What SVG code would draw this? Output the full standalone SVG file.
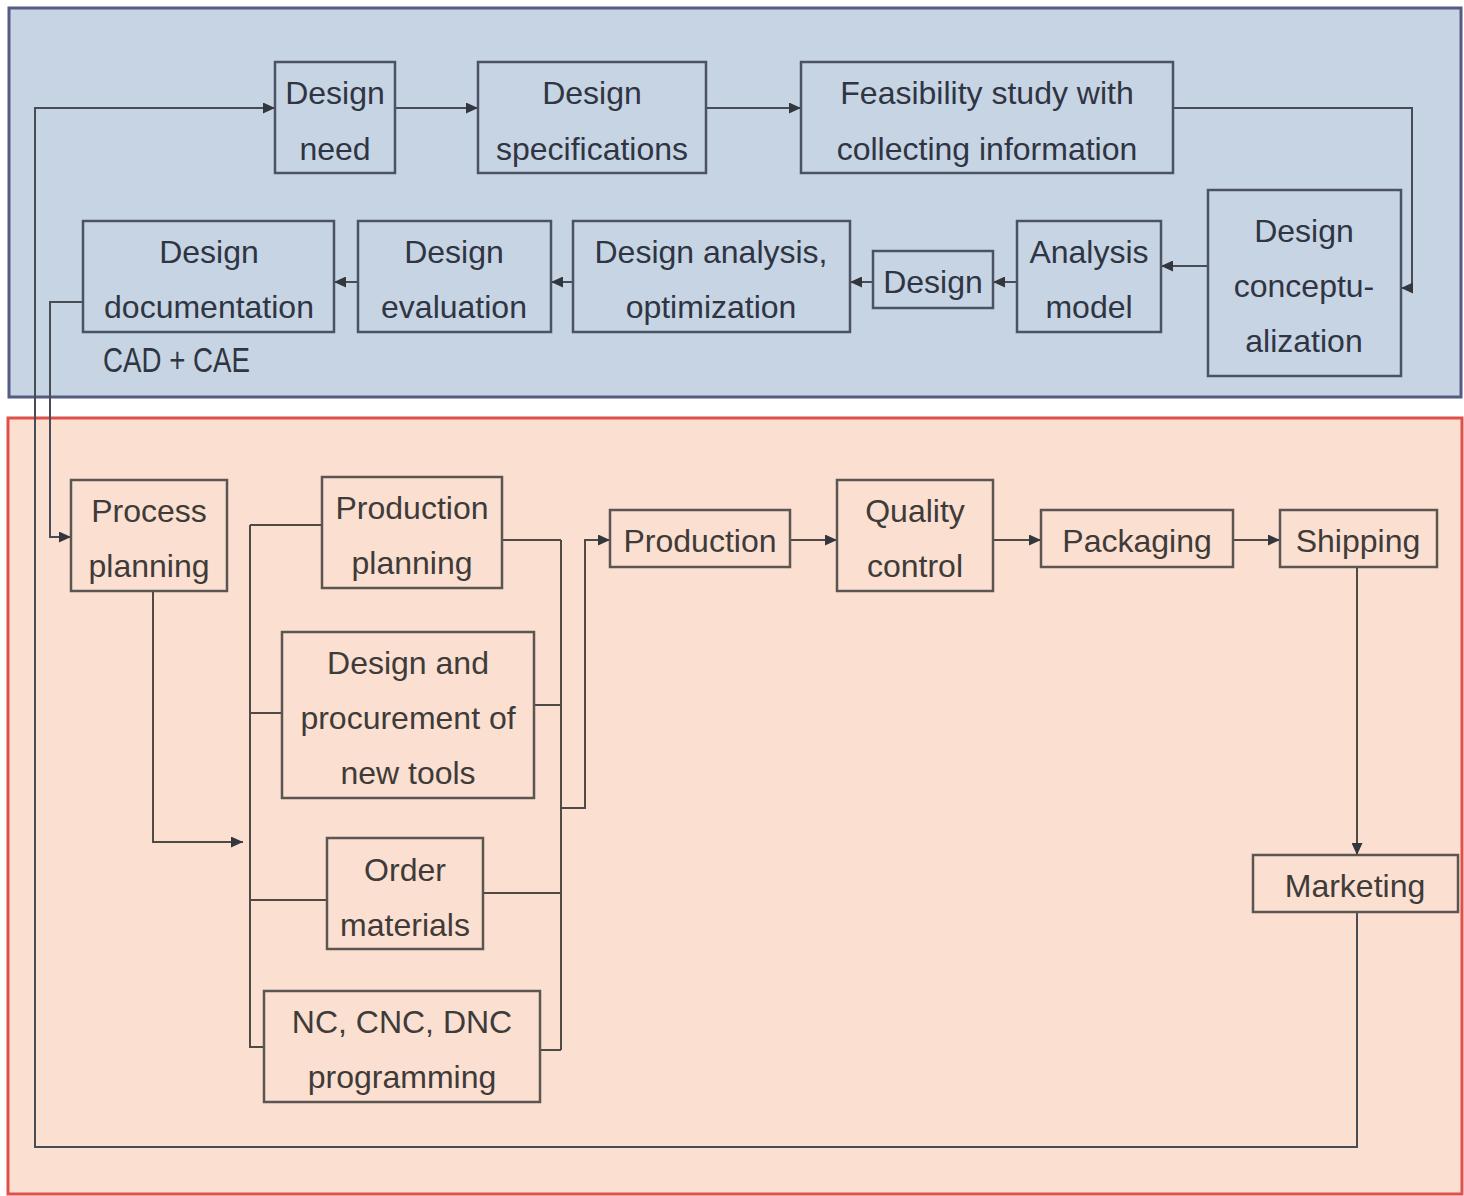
<svg xmlns="http://www.w3.org/2000/svg" width="1464" height="1196" viewBox="0 0 1464 1196">
<style>
text{font-family:"Liberation Sans",Arial,sans-serif;font-size:32px;text-anchor:middle}
.tn rect{fill:none;stroke:#4b5263;stroke-width:2.5}
.tn text{fill:#2f3542}
.bn rect{fill:none;stroke:#5c5652;stroke-width:2.5}
.bn text{fill:#3e3b39}
.ct{fill:none;stroke:#474c57;stroke-width:2}
.cb{fill:none;stroke:#4f4a46;stroke-width:2}
</style>
<defs>
<marker id="ah" markerUnits="userSpaceOnUse" markerWidth="12" markerHeight="11" refX="12" refY="5.5" orient="auto">
<path d="M0,0 L12,5.5 L0,11 z" fill="#33363c"/>
</marker>
</defs>
<rect width="1464" height="1196" fill="#ffffff"/>
<rect id="panel-design" x="9" y="8" width="1452" height="389" fill="#c7d4e4" stroke="#555b82" stroke-width="3"/>
<rect id="panel-manufacturing" x="8" y="418" width="1454" height="776" fill="#fbdfd1" stroke="#e0504a" stroke-width="3"/>

<g id="connectors">
<path class="ct" d="M1357,912 V1147 H35 V108 H275" marker-end="url(#ah)"/>
<path class="ct" d="M395,108 H478" marker-end="url(#ah)"/>
<path class="ct" d="M706,108 H801" marker-end="url(#ah)"/>
<path class="ct" d="M1173,108 H1412 V288 H1401" marker-end="url(#ah)"/>
<path class="ct" d="M1208,266 H1161" marker-end="url(#ah)"/>
<path class="ct" d="M1017,282 H993" marker-end="url(#ah)"/>
<path class="ct" d="M873,282 H850" marker-end="url(#ah)"/>
<path class="ct" d="M573,282 H551" marker-end="url(#ah)"/>
<path class="ct" d="M358,282 H334" marker-end="url(#ah)"/>
<path class="ct" d="M83,302 H50 V537 H71" marker-end="url(#ah)"/>
<path class="cb" d="M153,591 V842 H243" marker-end="url(#ah)"/>
<path class="cb" d="M250,525 V1048 M250,525 H322 M250,713 H282 M250,900 H327 M250,1047 H264"/>
<path class="cb" d="M502,540 H561 M534,705 H561 M483,893 H561 M540,1050 H561 M561,540 V1050"/>
<path class="cb" d="M561,808 H585 V540 H610" marker-end="url(#ah)"/>
<path class="cb" d="M790,540 H837" marker-end="url(#ah)"/>
<path class="cb" d="M993,540 H1041" marker-end="url(#ah)"/>
<path class="cb" d="M1233,540 H1280" marker-end="url(#ah)"/>
<path class="cb" d="M1357,567 V855" marker-end="url(#ah)"/>
</g>

<g id="design-need" class="tn"><rect x="275" y="62" width="120" height="111"/><text x="335" y="104">Design</text><text x="335" y="160">need</text></g>
<g id="design-specifications" class="tn"><rect x="478" y="62" width="228" height="111"/><text x="592" y="104">Design</text><text x="592" y="160">specifications</text></g>
<g id="feasibility-study" class="tn"><rect x="801" y="62" width="372" height="111"/><text x="987" y="104">Feasibility study with</text><text x="987" y="160">collecting information</text></g>
<g id="design-conceptualization" class="tn"><rect x="1208" y="190" width="193" height="186"/><text x="1304" y="242">Design</text><text x="1304" y="297">conceptu-</text><text x="1304" y="352">alization</text></g>
<g id="analysis-model" class="tn"><rect x="1017" y="221" width="144" height="111"/><text x="1089" y="263">Analysis</text><text x="1089" y="318">model</text></g>
<g id="design" class="tn"><rect x="873" y="251" width="120" height="57"/><text x="933" y="293">Design</text></g>
<g id="design-analysis" class="tn"><rect x="573" y="221" width="277" height="111"/><text x="711" y="263">Design analysis,</text><text x="711" y="318">optimization</text></g>
<g id="design-evaluation" class="tn"><rect x="358" y="221" width="193" height="111"/><text x="454" y="263">Design</text><text x="454" y="318">evaluation</text></g>
<g id="design-documentation" class="tn"><rect x="83" y="221" width="251" height="111"/><text x="209" y="263">Design</text><text x="209" y="318">documentation</text></g>
<text id="cad-cae" x="103" y="372" style="text-anchor:start;fill:#2f3542;font-size:35px" textLength="147" lengthAdjust="spacingAndGlyphs">CAD + CAE</text>

<g id="process-planning" class="bn"><rect x="71" y="480" width="156" height="111"/><text x="149" y="522">Process</text><text x="149" y="577">planning</text></g>
<g id="production-planning" class="bn"><rect x="322" y="477" width="180" height="111"/><text x="412" y="519">Production</text><text x="412" y="574">planning</text></g>
<g id="design-procurement" class="bn"><rect x="282" y="632" width="252" height="166"/><text x="408" y="674">Design and</text><text x="408" y="729">procurement of</text><text x="408" y="784">new tools</text></g>
<g id="order-materials" class="bn"><rect x="327" y="838" width="156" height="111"/><text x="405" y="881">Order</text><text x="405" y="936">materials</text></g>
<g id="nc-programming" class="bn"><rect x="264" y="991" width="276" height="111"/><text x="402" y="1033">NC, CNC, DNC</text><text x="402" y="1088">programming</text></g>
<g id="production" class="bn"><rect x="610" y="510" width="180" height="57"/><text x="700" y="552">Production</text></g>
<g id="quality-control" class="bn"><rect x="837" y="480" width="156" height="111"/><text x="915" y="522">Quality</text><text x="915" y="577">control</text></g>
<g id="packaging" class="bn"><rect x="1041" y="510" width="192" height="57"/><text x="1137" y="552">Packaging</text></g>
<g id="shipping" class="bn"><rect x="1280" y="510" width="157" height="57"/><text x="1358" y="552">Shipping</text></g>
<g id="marketing" class="bn"><rect x="1253" y="855" width="205" height="57"/><text x="1355" y="897">Marketing</text></g>
</svg>
